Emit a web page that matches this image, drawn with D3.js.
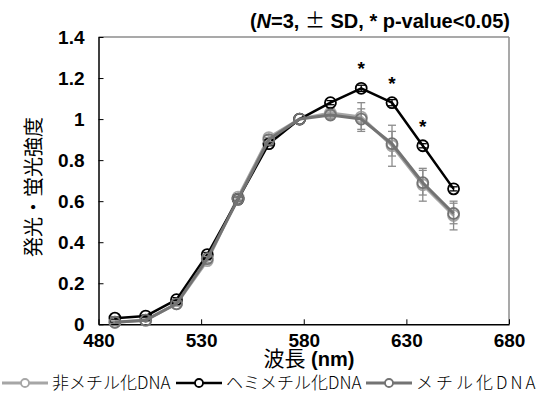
<!DOCTYPE html>
<html><head><meta charset="utf-8">
<script src="https://cdn.jsdelivr.net/npm/d3@7"></script>
<style>
body{margin:0;background:#fff;}
svg{display:block;}
text{font-family:"Liberation Sans",Arial,sans-serif;}
.cjk{font-family:"Noto Sans CJK JP","Liberation Sans",sans-serif;}
</style></head>
<body><svg id="c" width="542" height="396"></svg>
<script>
const wavelengths = [488,503,518,533,548,563,578,593,608,623,638,653];
const seriesNames = ["非メチル化DNA","ヘミメチル化DNA","メチル化DNA"];
const nonMethyl   = [0.01,0.02,0.10,0.31,0.62,0.91,1.00,1.03,1.01,0.87,0.68,0.53];
const nonMethylSD = [0.005,0.005,0.01,0.01,0.01,0.01,0.00,0.02,0.07,0.10,0.08,0.07];
const hemiMethyl   = [0.03,0.04,0.12,0.34,0.61,0.88,1.00,1.08,1.15,1.08,0.87,0.66];
const hemiMethylSD = [0.005,0.005,0.01,0.01,0.01,0.01,0.00,0.01,0.015,0.015,0.01,0.01];
const methyl   = [0.01,0.02,0.10,0.32,0.61,0.90,1.00,1.02,1.00,0.88,0.69,0.54];
const methylSD = [0.005,0.005,0.01,0.01,0.01,0.01,0.00,0.02,0.05,0.06,0.06,0.05];
const significant = [0,0,0,0,0,0,0,0,1,1,1,0];
const yTicks = [0,0.2,0.4,0.6,0.8,1,1.2,1.4];
const xTicks = [480,530,580,630,680];

const colors = ["#a6a6a6","#000000","#737373"];
const widths = [3,2.5,3];
const series = [
  {name:seriesNames[0], v:nonMethyl, sd:nonMethylSD},
  {name:seriesNames[1], v:hemiMethyl, sd:hemiMethylSD},
  {name:seriesNames[2], v:methyl, sd:methylSD}
];

const svg = d3.select("#c");
const x = d3.scaleLinear().domain([480,680]).range([98.5,509]);
const y = d3.scaleLinear().domain([0,1.4]).range([324.3,37]);

svg.append("line").attr("x1",98.5).attr("x2",509).attr("y1",37).attr("y2",37).attr("stroke","#8c8c8c").attr("stroke-width",1.5);
svg.append("line").attr("x1",509).attr("x2",509).attr("y1",37).attr("y2",324.3).attr("stroke","#8c8c8c").attr("stroke-width",1.5);

const yAxis = svg.append("g").attr("transform","translate(98.5,0)")
  .call(d3.axisLeft(y).tickValues(yTicks).tickSizeInner(-5).tickSizeOuter(0).tickPadding(14).tickFormat(d=>String(d)));
const xAxis = svg.append("g").attr("transform","translate(0,324.3)")
  .call(d3.axisBottom(x).tickValues(xTicks).tickSizeInner(-5).tickSizeOuter(0).tickPadding(9).tickFormat(d=>String(d)));
[yAxis,xAxis].forEach(a=>{
  a.select(".domain").attr("stroke","#000").attr("stroke-width",1.5);
  a.selectAll(".tick line").attr("stroke","#000").attr("stroke-width",1);
  a.selectAll(".tick text").attr("font-family","Liberation Sans, Arial, sans-serif")
    .attr("font-size",19).attr("font-weight","bold").attr("fill","#000");
});

const line = d3.line().x((d,i)=>x(wavelengths[i])).y(d=>y(d));
const cap = 4;
series.forEach((s,si)=>{
  const g = svg.append("g");
  s.v.forEach((v,i)=>{
    const sd = s.sd[i];
    if(sd<=0) return;
    const cx = x(wavelengths[i]);
    const eb = g.append("g").attr("stroke", si===1?"#000":"#8c8c8c").attr("stroke-width",1.3);
    eb.append("line").attr("x1",cx).attr("x2",cx).attr("y1",y(v-sd)).attr("y2",y(v+sd));
    eb.append("line").attr("x1",cx-cap).attr("x2",cx+cap).attr("y1",y(v-sd)).attr("y2",y(v-sd));
    eb.append("line").attr("x1",cx-cap).attr("x2",cx+cap).attr("y1",y(v+sd)).attr("y2",y(v+sd));
  });
  g.append("path").datum(s.v).attr("d",line).attr("fill","none")
    .attr("stroke",colors[si]).attr("stroke-width",widths[si]).attr("stroke-linejoin","round");
  g.selectAll("circle").data(s.v).enter().append("circle")
    .attr("cx",(d,i)=>x(wavelengths[i])).attr("cy",d=>y(d)).attr("r",5.5)
    .attr("fill","none").attr("stroke",colors[si]).attr("stroke-width",1.8);
});

significant.forEach((f,i)=>{
  if(!f) return;
  svg.append("text").attr("x",x(wavelengths[i])).attr("y",y(hemiMethyl[i])-13)
    .attr("text-anchor","middle").attr("font-size",19).attr("font-weight","bold").text("*");
});

// title
const t = svg.append("text").attr("x",510).attr("y",28).attr("text-anchor","end")
  .attr("font-size",20).attr("font-weight","bold");
t.append("tspan").text("(");
t.append("tspan").attr("font-style","italic").text("N");
t.append("tspan").text("=3, ");
t.append("tspan").attr("class","cjk").attr("font-weight","normal").text("±");
t.append("tspan").text(" SD, * p-value<0.05)");

// axis titles
svg.append("text").attr("class","cjk").attr("transform","translate(41,187) rotate(-90)")
  .attr("text-anchor","middle").attr("font-size",20).text("発光・蛍光強度");
const xt = svg.append("text").attr("x",309).attr("y",366).attr("text-anchor","middle").attr("font-size",21);
xt.append("tspan").attr("class","cjk").text("波長");
xt.append("tspan").attr("font-weight","bold").attr("font-size",20).attr("font-family","Liberation Sans, Arial, sans-serif").text(" (nm)");

// legend
const legX = [2, 176, 366];
series.forEach((s,si)=>{
  const lg = svg.append("g").attr("transform",`translate(${legX[si]},383)`);
  lg.append("line").attr("x1",0).attr("x2",46).attr("y1",0).attr("y2",0)
    .attr("stroke",colors[si]).attr("stroke-width",widths[si]);
  lg.append("circle").attr("cx",23).attr("cy",0).attr("r",4).attr("fill","#fff")
    .attr("stroke",colors[si]).attr("stroke-width",1.8);
  lg.append("text").attr("class","cjk").attr("x",50).attr("y",6).attr("font-size",17)
    .attr("letter-spacing", si===2?3:0)
    .attr("font-weight",300).attr("fill","#000").text(s.name);
});
</script></body></html>
